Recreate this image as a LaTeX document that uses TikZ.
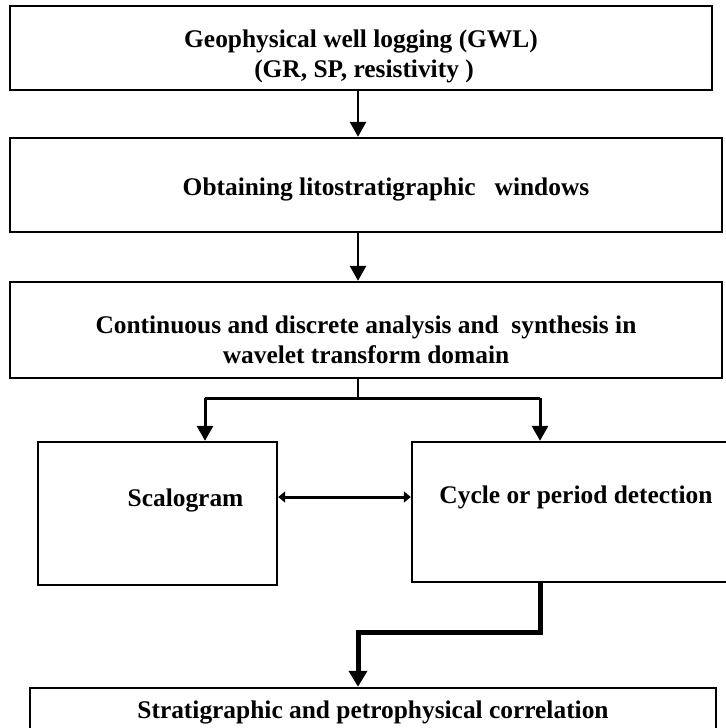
\documentclass[tikz,border=0pt]{standalone}
\usepackage{fontspec}
\setmainfont{Liberation Serif}
\usetikzlibrary{arrows.meta}
\newcommand\liftby[2]{\raisebox{#1}[\height][\depth]{#2}}
\begin{document}
\begin{tikzpicture}[x=1bp,y=-1bp,
  box/.style={draw, line width=2.4bp, rectangle, inner sep=0pt,
    font=\fontsize{25.5}{30}\selectfont\bfseries, align=center},
  flow/.style={line width=2.8bp, -{Triangle[length=15bp,width=16bp]}},
  branch/.style={line width=3bp},
  stem/.style={line width=2bp},
  dbl/.style={line width=3bp, {Triangle[length=7bp,width=11bp]}-{Triangle[length=7bp,width=11bp]}},
  elbow/.style={line width=5bp, -{Triangle[length=16bp,width=18bp]}}
]
\useasboundingbox (0,0) rectangle (726,728);
\fill[white] (0,0) rectangle (726,728);
\clip (0,0) rectangle (726,728);
\coordinate (axis) at (358,0);
\node[box, minimum width=702bp, minimum height=84bp] (b1) at (361,48)
  {\liftby{-8bp}{Geophysical well logging (GWL)}\\\liftby{-8bp}{\hspace*{6bp}(GR, SP, resistivity )}};
\node[box, minimum width=712bp, minimum height=94bp] (b2) at (366,185)
  {\hspace*{40bp}\liftby{-4bp}{Obtaining litostratigraphic \ \ windows}};
\node[box, minimum width=712bp, minimum height=96bp] (b3) at (366,330)
  {\liftby{-10bp}{Continuous and discrete analysis and \ synthesis in}\\\liftby{-10bp}{wavelet transform domain}};
\node[box, minimum width=239bp, minimum height=143bp] (scal) at (157.5,513.5)
  {\hspace*{56bp}\liftby{13bp}{Scalogram}};
\node[box, minimum width=328bp, minimum height=140bp] (cyc) at (576,512)
  {\liftby{15bp}{Cycle or period detection}};
\node[box, minimum width=686bp, minimum height=48bp] (b6) at (373,712)
  {Stratigraphic and petrophysical correlation};
\draw[flow] (b1.south -| axis) -- (b2.north -| axis);
\draw[flow] (b2.south -| axis) -- (b3.north -| axis);
\coordinate (split) at (358,398);
\coordinate (brL) at (205,398);
\coordinate (brR) at (540,398);
\coordinate (mid) at (0,497);
\draw[stem] (b3.south -| axis) -- (split);
\draw[branch] (brL) -- (brR);
\draw[flow, line width=3bp] (brL) -- (brL |- scal.north);
\draw[flow, line width=3bp] (brR) -- (brR |- cyc.north);
\draw[dbl] (scal.east |- mid) -- (cyc.west |- mid);
\coordinate (drop) at (540,632);
\draw[elbow] (drop |- cyc.south) -- (drop) -- (drop -| axis) -- (b6.north -| axis);
\end{tikzpicture}
\end{document}
